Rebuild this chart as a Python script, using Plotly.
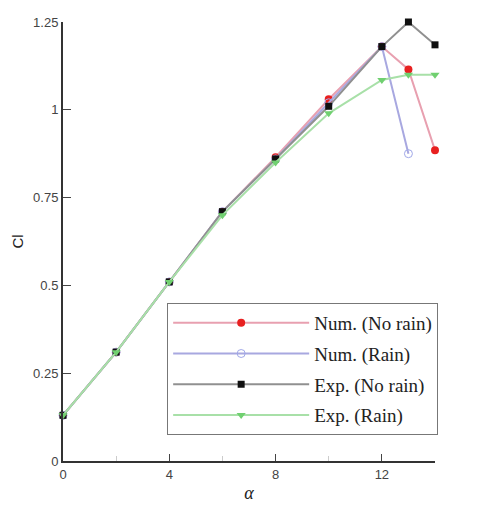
import plotly.graph_objects as go

alpha = [0, 2, 4, 6, 8, 10, 12, 13, 14]
num_norain = [0.13, 0.31, 0.51, 0.71, 0.865, 1.03, 1.18, 1.115, 0.885]
alpha_num_rain = [0, 2, 4, 6, 8, 10, 12, 13]
num_rain = [0.13, 0.31, 0.51, 0.71, 0.86, 1.02, 1.18, 0.875]
exp_norain = [0.13, 0.31, 0.51, 0.71, 0.86, 1.01, 1.18, 1.25, 1.185]
exp_rain = [0.13, 0.31, 0.51, 0.70, 0.85, 0.99, 1.085, 1.10, 1.10]

fig = go.Figure()
series = [
    ("Num. (No rain)", alpha, num_norain, "#e8a0b0", dict(symbol="circle", color="#e82020", size=8)),
    ("Num. (Rain)", alpha_num_rain, num_rain, "#a8a8e0", dict(symbol="circle-open", color="#a0a8e8", size=8)),
    ("Exp. (No rain)", alpha, exp_norain, "#909090", dict(symbol="square", color="#101010", size=7)),
    ("Exp. (Rain)", alpha, exp_rain, "#a8e0a8", dict(symbol="triangle-down", color="#70d070", size=8)),
]
for i, (name, xs, ys, lc, mk) in enumerate(series):
    fig.add_trace(go.Scatter(x=xs, y=ys, mode="lines+markers", name=name,
                             line=dict(color=lc, width=2), marker=mk,
                             legendgroup=str(i), cliponaxis=False))

fig.update_layout(
    width=478, height=512,
    margin=dict(l=63, r=43, t=22, b=45),
    plot_bgcolor="white", paper_bgcolor="white",
    font=dict(family="Liberation Sans", size=13, color="#444"),
    legend=dict(x=0.28, y=0.36, xanchor="left", yanchor="top",
                bordercolor="#777", borderwidth=1, bgcolor="white",
                font=dict(family="Liberation Serif", size=19, color="#222"),
                traceorder="grouped", tracegroupgap=3, itemwidth=136),
    showlegend=True,
)
fig.update_xaxes(range=[0, 14], tickvals=[0, 4, 8, 12], ticks="inside", ticklen=7,
                 showline=True, linecolor="#333", linewidth=2, showgrid=False, zeroline=False,
                 minor=dict(tickvals=[2, 6, 10], ticks="inside", ticklen=5, tickcolor="#ccc"),
                 title=dict(text="<i>α</i>", font=dict(family="Liberation Serif", size=18, color="#222"), standoff=6))
fig.update_yaxes(range=[0, 1.25], tickvals=[0, 0.25, 0.5, 0.75, 1, 1.25],
                 ticktext=["0", "0.25", "0.5", "0.75", "1", "1.25"], ticks="inside", ticklen=8,
                 showline=True, linecolor="#333", linewidth=2, showgrid=False, zeroline=False,
                 title=dict(text="Cl", font=dict(size=15, color="#222"), standoff=6))
fig.write_html("out.html")
